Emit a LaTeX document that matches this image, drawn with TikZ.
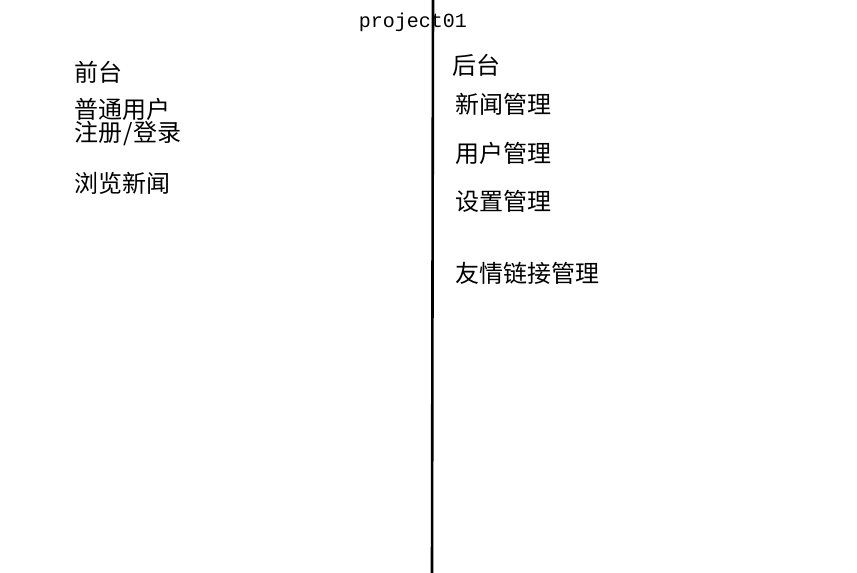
\documentclass[tikz,border=0pt]{standalone}
\usepackage{fontspec}
\newfontfamily\cjk{Noto Sans CJK SC}
\newfontfamily\monofont{Liberation Mono}
\begin{document}
\begin{tikzpicture}[x=1pt,y=-1pt,
  label/.style={anchor=west,inner sep=0pt,font=\cjk\fontsize{24}{27}\selectfont},
  titlelabel/.style={anchor=center,inner sep=0pt,font=\monofont\fontsize{20}{24}\selectfont}]
\useasboundingbox[fill=white] (0,0) rectangle (857,573);
\node[titlelabel] (title) at (413,22) {project01};
\node[label] (front) at (74,72) {前台};
\node[label] (user) at (74,109) {普通用户};
\node[label] (reg) at (74,134) {注册\hspace{1pt}/\hspace{1pt}登录};
\node[label] (browse) at (74,183) {浏览新闻};
\node[label] (back) at (452,65) {后台};
\node[label] (news) at (455,104) {新闻管理};
\node[label] (usermgr) at (455,153) {用户管理};
\node[label] (setting) at (455,201) {设置管理};
\node[label] (links) at (455,273) {友情链接管理};
\coordinate (top) at (433,0);
\coordinate (bottom) at (432,573);
\draw[line width=2.6pt] (top) -- (bottom);
\end{tikzpicture}
\end{document}
